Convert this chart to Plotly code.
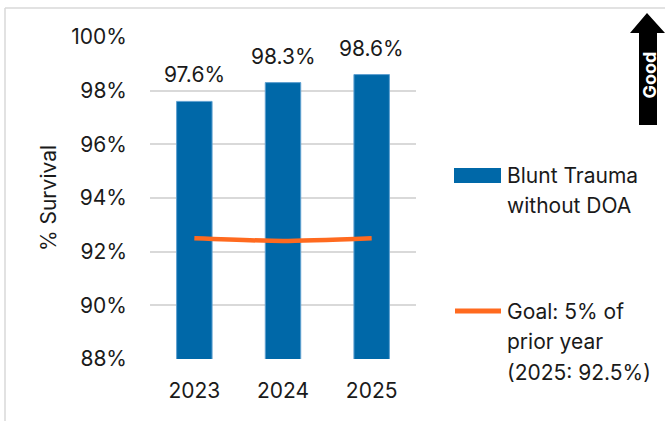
import plotly.graph_objects as go

# Survival data
years = ["2023", "2024", "2025"]
survival = [97.6, 98.3, 98.6]
goal = [92.5, 92.4, 92.5]
y_ticks = [88, 90, 92, 94, 96, 98, 100]
bar_legend_lines = ["Blunt Trauma", "without DOA"]
goal_legend_lines = ["Goal: 5% of", "prior year", "(2025: 92.5%)"]
badge_text = "Good"

W, H = 665, 421
L, R, T, B = 150, 416, 37, 359  # plot area in pixels
FONT = "Inter"
FS = 21
TXT = "#1a1a1a"
BLUE = "#0068A8"
ORANGE = "#FF6A1F"


def px(x):
    return (x - L) / (R - L)


def py(y):
    return (B - y) / (B - T)


fig = go.Figure()
fig.add_trace(go.Bar(
    x=years, y=survival, marker=dict(color=BLUE, line=dict(color="#5FA0D0", width=1)),
    showlegend=False, hoverinfo="skip",
))
fig.add_trace(go.Scatter(
    x=years, y=goal, mode="lines",
    line=dict(color=ORANGE, width=4.5, shape="spline", smoothing=0.6),
    showlegend=False, hoverinfo="skip",
))

annotations = []
for i, v in enumerate(survival):
    annotations.append(dict(
        x=i, y=v, xref="x", yref="y", text=f"{v:.1f}%", showarrow=False,
        xanchor="center", yanchor="bottom", yshift=12,
        font=dict(family=FONT, size=FS, color=TXT),
    ))

# legend drawn by hand
shapes = [
    dict(type="rect", xref="paper", yref="paper", x0=px(454), x1=px(501), y0=py(183), y1=py(168),
         fillcolor=BLUE, line=dict(width=0)),
    dict(type="line", xref="paper", yref="paper", x0=px(455), x1=px(501), y0=py(311), y1=py(311),
         line=dict(color=ORANGE, width=5)),
]
for i, t in enumerate(bar_legend_lines):
    annotations.append(dict(x=px(505), y=py(175 + 30 * i), xref="paper", yref="paper", text=t,
                            showarrow=False, xanchor="left", yanchor="middle",
                            font=dict(family=FONT, size=FS, color=TXT)))
for i, t in enumerate(goal_legend_lines):
    annotations.append(dict(x=px(505), y=py(311 + 30.5 * i), xref="paper", yref="paper", text=t,
                            showarrow=False, xanchor="left", yanchor="middle",
                            font=dict(family=FONT, size=FS, color=TXT)))

# "Good" direction arrow
arrow = (f"M {px(647)} {py(13)} L {px(665)} {py(33)} L {px(657)} {py(33)} L {px(657)} {py(125)} "
         f"L {px(639)} {py(125)} L {px(639)} {py(33)} L {px(630)} {py(33)} Z")
shapes.append(dict(type="path", xref="paper", yref="paper", path=arrow,
                   fillcolor="black", line=dict(width=0)))
annotations.append(dict(x=px(648.5), y=py(75), xref="paper", yref="paper",
                        text=f"<b>{badge_text}</b>", showarrow=False, textangle=-90,
                        xanchor="center", yanchor="middle",
                        font=dict(family=FONT, size=18, color="white")))

# outer frame
shapes.append(dict(type="line", xref="paper", yref="paper", x0=px(5), x1=px(5), y0=py(8), y1=py(430),
                   line=dict(color="#D9D9D9", width=1.5)))
shapes.append(dict(type="line", xref="paper", yref="paper", x0=px(5), x1=px(670), y0=py(8), y1=py(8),
                   line=dict(color="#D9D9D9", width=1.5)))

fig.update_layout(
    width=W, height=H,
    margin=dict(l=L, r=W - R, t=T, b=H - B),
    paper_bgcolor="white", plot_bgcolor="white",
    bargap=0.6,
    font=dict(family=FONT, size=FS, color=TXT),
    shapes=shapes, annotations=annotations,
    xaxis=dict(type="category", range=[-0.5, 2.5], showgrid=False, showline=False, ticks="",
               ticklabelstandoff=17, tickfont=dict(size=FS)),
    yaxis=dict(range=[88, 100], tickvals=y_ticks, ticktext=[f"{v}%" for v in y_ticks],
               showgrid=True, gridcolor="#D9D9D9", gridwidth=2, zeroline=False,
               showline=False, ticks="", ticklabelstandoff=22, tickfont=dict(size=FS),
               title=dict(text="% Survival", standoff=8, font=dict(size=FS))),
)

fig.write_html("out.html")
